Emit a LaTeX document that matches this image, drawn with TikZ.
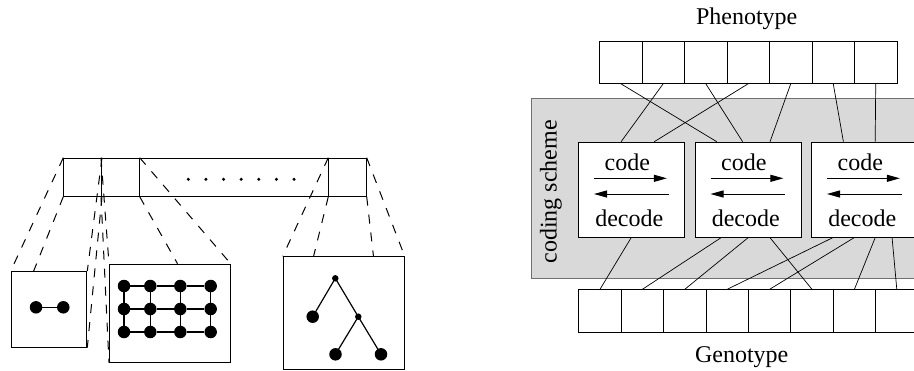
\documentclass[tikz,border=0pt]{standalone}
\usepackage{fontspec}
\setmainfont{Liberation Serif}
\usetikzlibrary{arrows.meta,calc}
\definecolor{schemefill}{HTML}{D9D9D9}
\definecolor{schemeedge}{HTML}{707070}
\begin{document}
\begin{tikzpicture}[x=1pt,y=-1pt,
  outline/.style={draw, line width=1pt, inner sep=0pt, anchor=north west},
  pcell/.style={outline, minimum width=42.5pt, minimum height=42pt},
  gcell/.style={outline, minimum width=42.4pt, minimum height=42.4pt},
  codebox/.style={outline, fill=white, minimum width=106pt, minimum height=95pt},
  lbl/.style={font=\fontsize{24}{28}\selectfont, inner sep=0pt},
  arr/.style={line width=1pt, -{Triangle[length=13pt,width=7pt]}},
  link/.style={line width=0.7pt},
  proj/.style={line width=1pt, dash pattern=on 9pt off 9pt},
  bigdot/.style={circle, fill, inner sep=0pt, minimum size=12.5pt},
  smalldot/.style={circle, fill, inner sep=0pt, minimum size=6.5pt}
]
\useasboundingbox (0,0) rectangle (914,370);
\clip (0,0) rectangle (914,370);

% ================= LEFT PART =================
% top bar
\node[outline, minimum width=37.7pt, minimum height=38pt] (c1) at (63.3,157.7) {};
\node[outline, minimum width=37.7pt, minimum height=38pt] (c2) at (101,157.7) {};
\node[outline, minimum width=189.6pt, minimum height=38pt] (c3) at (138.7,157.7) {};
\node[outline, minimum width=37.4pt, minimum height=38pt] (c4) at (328.3,157.7) {};
\foreach \k in {0,...,6} \fill ({188.3+17.62*\k},179.3) circle (1.7pt);

% boxes
\node[outline, minimum width=75.6pt, minimum height=75.7pt] (b1) at (10.7,271) {};
\node[outline, minimum width=120.7pt, minimum height=98pt] (b2) at (109,263.7) {};
\node[outline, minimum width=121pt, minimum height=112.5pt] (b3) at (282.7,256.3) {};

% projection lines
\draw[proj] (c1.north west) -- (b1.north west);
\draw[proj] (c1.south west) -- ($(b1.north west)!0.30!(b1.north east)$);
\draw[proj] (c1.north east) -- (b1.north east);
\draw[proj] (c1.south east) -- (b1.south east);
\draw[proj] (c2.north west) -- (b2.north west);
\draw[proj] (c2.south west) -- (b2.south west);
\draw[proj] (c2.north east) -- (b2.north east);
\draw[proj] (c2.south east) -- ($(b2.north west)!0.563!(b2.north east)$);
\draw[proj] (c4.north west) -- (b3.north west);
\draw[proj] (c4.south west) -- ($(b3.north west)!0.253!(b3.north east)$);
\draw[proj] (c4.north east) -- (b3.north east);
\draw[proj] (c4.south east) -- ($(b3.north west)!0.744!(b3.north east)$);

% graph in box 1
\node[bigdot] (d1) at (36,307.3) {};
\node[bigdot] (d2) at (63.3,307.3) {};
\draw[line width=0.6pt] (d1) -- (d2);

% grid in box 2
\foreach \c/\x in {1/124,2/150.3,3/180.3,4/210.7}
  \foreach \r/\y in {1/286,2/309,3/332}
    \node[bigdot] (m\r\c) at (\x,\y) {};
\foreach \r in {1,2,3} {
  \draw[line width=1.3pt] (m\r1) -- (m\r2) -- (m\r3) -- (m\r4);
}
\foreach \c in {1,2,3,4} {
  \draw[line width=1.3pt] (m1\c) -- (m2\c) -- (m3\c);
}

% tree in box 3
\node[smalldot] (t0) at (335.3,278.3) {};
\node[bigdot] (t1) at (312.7,316.7) {};
\node[smalldot] (t2) at (358.3,316.7) {};
\node[bigdot] (t3) at (335.5,354.3) {};
\node[bigdot] (t4) at (381,354.3) {};
\draw[line width=1.2pt] (t0.center) -- (t1.center);
\draw[line width=1.2pt] (t0.center) -- (t2.center);
\draw[line width=1.2pt] (t2.center) -- (t3.center);
\draw[line width=1.2pt] (t2.center) -- (t4.center);

% ================= RIGHT PART =================
\node[anchor=north west, draw=schemeedge, fill=schemefill, line width=1pt,
      minimum width=400pt, minimum height=180pt, inner sep=0pt] (cs) at (531,98.3) {};
\node[lbl, rotate=90] (cslbl) at (551,192) {coding scheme};

\node[lbl] (phen) at (746.7,18.3) {Phenotype};
\node[lbl] (gen) at (741.7,356.7) {Genotype};

\foreach \i in {1,...,7}
  \node[pcell] (p\i) at ({599+42.5*(\i-1)},40.7) {};
\foreach \i in {1,...,8}
  \node[gcell] (g\i) at ({578.3+42.4*(\i-1)},289.3) {};

\node[codebox] (A) at (578.3,141.7) {};
\node[codebox] (B) at (694.8,141.7) {};
\node[codebox] (C) at (811.3,141.7) {};

\foreach \b in {A,B,C} {
  \node[lbl] (\b code) at ($(\b.north west)+(49,21)$) {code};
  \node[lbl] (\b dec) at ($(\b.north west)+(51,77)$) {decode};
  \coordinate (\b r1) at ($(\b.north west)+(15.7,36.6)$);
  \coordinate (\b r2) at ($(\b.north west)+(88.6,36.6)$);
  \coordinate (\b l1) at ($(\b.north west)+(90.2,52.3)$);
  \coordinate (\b l2) at ($(\b.north west)+(15.7,52.3)$);
  \draw[arr] (\b r1) -- (\b r2);
  \draw[arr] (\b l1) -- (\b l2);
}

% phenotype -> coding boxes
\draw[link] (p1.south) -- ($(B.north west)!0.205!(B.north east)$);
\draw[link] (p2.south) -- ($(A.north west)!0.40!(A.north east)$);
\draw[link] (p3.south) -- ($(B.north west)!0.447!(B.north east)$);
\draw[link] (p4.south) -- ($(A.north west)!0.71!(A.north east)$);
\draw[link] (p5.south) -- ($(B.north west)!0.703!(B.north east)$);
\draw[link] (p6.south) -- ($(C.north west)!0.30!(C.north east)$);
\draw[link] (p7.south) -- ($(C.north west)!0.597!(C.north east)$);

% coding boxes -> genotype
\draw[link] ($(A.south west)!0.494!(A.south east)$) -- (g1.north);
\draw[link] ($(B.south west)!0.245!(B.south east)$) -- (g2.north);
\draw[link] ($(B.south west)!0.498!(B.south east)$) -- (g3.north);
\draw[link] ($(B.south west)!0.703!(B.south east)$) -- (g6.north);
\draw[link] ($(C.south west)!0.20!(C.south east)$) -- (g4.north);
\draw[link] ($(C.south west)!0.40!(C.south east)$) -- (g5.north);
\draw[link] ($(C.south west)!0.597!(C.south east)$) -- (g7.north);
\draw[link] ($(C.south west)!0.755!(C.south east)$) -- (g8.north);
\end{tikzpicture}
\end{document}
